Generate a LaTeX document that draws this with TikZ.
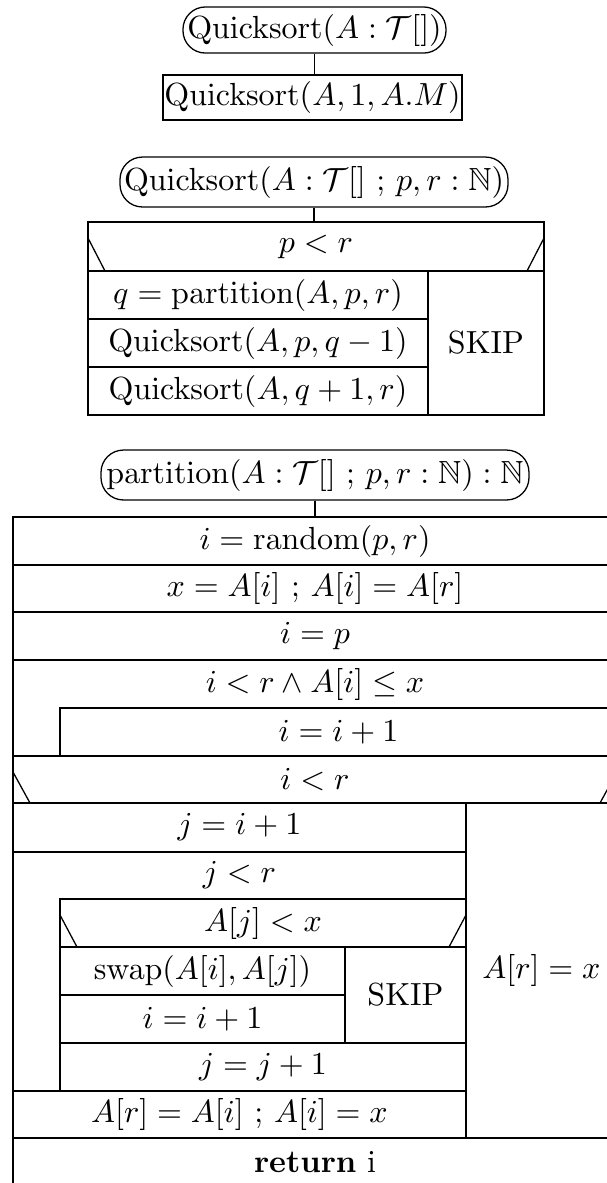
\documentclass[tikz,border=0pt]{standalone}
\usepackage{amssymb}
\newcommand\qsname{\mathrm{Quicksort}}
\newcommand\sep{\ ;\,}
\newcommand\cellbox[7][cell]{\node[#1,minimum width={(#4-#2)*0.3125pt},minimum height={(#5-#3)*0.3125pt}] (#6) at ({(#2+#4)/2},{(#3+#5)/2}) {#7};}
\begin{document}
\begin{tikzpicture}[x=0.3125pt,y=-0.3125pt,line width=0.4pt,
  oval/.style={draw,rounded corners=7pt,inner sep=0pt},
  cell/.style={draw,inner sep=0pt},
  lbl/.style={inner sep=0pt}]
\useasboundingbox (0,0) rectangle (607,1183);
\clip (0,0) rectangle (607,1183);
% --- Quicksort(A) ---
\node[oval,minimum width=82.2pt,minimum height=14.4pt] (o1) at (314.5,30) {$\qsname(A:\mathcal{T}[])$};
\cellbox{163}{75}{462}{120}{b1}{$\qsname(A,1,A.M)$}
\draw (o1.south) -- (o1.south |- b1.north);
% --- Quicksort(A,p,r) ---
\node[oval,minimum width=121.25pt,minimum height=15.6pt] (o2) at (314,182) {$\qsname(A:\mathcal{T}[]\sep p,r:\mathbb{N})$};
\cellbox{88}{222}{544}{271}{h2}{$p<r$}
\draw (88,238) -- (105,271) (544,238) -- (527,271);
\cellbox{88}{271}{428}{319}{q1}{$q=\mathrm{partition}(A,p,r)$}
\cellbox{88}{319}{428}{367}{q2}{$\qsname(A,p,q-1)$}
\cellbox{88}{367}{428}{415}{q3}{$\qsname(A,q+1,r)$}
\cellbox{428}{271}{544}{415}{q4}{SKIP}
\draw (o2.south) -- (o2.south |- h2.north);
% --- partition ---
\node[oval,minimum width=133.75pt,minimum height=15.6pt] (o3) at (315,475) {$\mathrm{partition}(A:\mathcal{T}[]\sep p,r:\mathbb{N}):\mathbb{N}$};
\cellbox{13}{517}{617}{565}{p1}{$i=\mathrm{random}(p,r)$}
\draw (o3.south) -- (o3.south |- p1.north);
\cellbox{13}{565}{617}{612}{p2}{$x=A[i]\sep A[i]=A[r]$}
\cellbox{13}{612}{617}{660}{p3}{$i=p$}
\draw (13,660) rectangle (617,756);
\node[lbl] (w1) at (315,684) {$i<r\wedge A[i]\leq x$};
\cellbox{60}{708}{617}{756}{w1b}{$i=i+1$}
\cellbox{13}{756}{617}{803}{f1}{$i<r$}
\draw (13,772) -- (30,803) (617,772) -- (600,803);
\cellbox{13}{803}{466}{852}{p4}{$j=i+1$}
\draw (13,852) rectangle (466,1091);
\node[lbl] (w2) at (239.5,875.5) {$j<r$};
\cellbox{60}{899}{466}{947}{f2}{$A[j]<x$}
\draw (60,915) -- (77,947) (466,915) -- (449,947);
\cellbox{60}{947}{345}{995}{p5}{$\mathrm{swap}(A[i],A[j])$}
\cellbox{60}{995}{345}{1043}{p6}{$i=i+1$}
\cellbox{345}{947}{466}{1043}{p7}{SKIP}
\cellbox{60}{1043}{466}{1091}{p8}{$j=j+1$}
\cellbox{13}{1091}{466}{1138}{p9}{$A[r]=A[i]\sep A[i]=x$}
\cellbox{466}{803}{617}{1138}{p10}{$A[r]=x$}
\cellbox{13}{1138}{617}{1186}{p11}{\textbf{return} i}
\end{tikzpicture}
\end{document}
